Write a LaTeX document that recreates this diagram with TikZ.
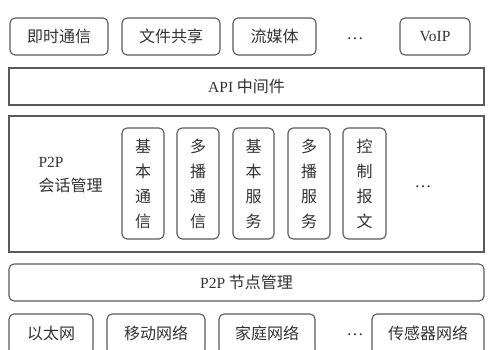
\documentclass[tikz,border=0pt]{standalone}
\usepackage{fontspec}
\setmainfont{Liberation Serif}
\newfontfamily\latf{Liberation Serif}
\newfontfamily\cjk{Noto Sans CJK SC}
\definecolor{ln}{HTML}{5A5A5A}
\definecolor{tx}{HTML}{333333}
\tikzset{
  cjkf/.style={font=\cjk\fontsize{16}{18}\selectfont},
  rbox/.style={draw=ln, line width=1.1pt, rounded corners=5pt, inner sep=0pt, text=tx, cjkf},
  sbox/.style={draw=ln, line width=1.1pt, inner sep=0pt, text=tx, cjkf},
  vbox/.style={rbox, align=center, font=\cjk\fontsize{16}{25}\selectfont},
  dots/.style={text=tx, font=\fontsize{17}{18}\selectfont},
  latin/.style={font=\latf\fontsize{15.5}{16}\selectfont},
}
\newcommand{\bx}[6]{\node[#1, minimum width=#4-#3, minimum height=#6-#5] (#2) at ({(#3+#4)/2},{(#5+#6)/2})}
\newcommand{\lat}[1]{{\latf\fontsize{15.5}{16}\selectfont #1}}
\begin{document}
\begin{tikzpicture}[x=1pt,y=-1pt]
\useasboundingbox (0,0) rectangle (489,349);
\fill[white] (0,0) rectangle (489,349);
% top row
\bx{rbox}{a1}{10}{108}{18}{55} {即时通信};
\bx{rbox}{a2}{122}{220}{18}{55} {文件共享};
\bx{rbox}{a3}{233}{316}{18}{55} {流媒体};
\node[dots] (ad) at (355,39) {\dots};
\bx{rbox}{a4}{400}{470}{18}{55} {\lat{VoIP}};
% API
\bx{sbox}{api}{9}{484}{68}{105} {\lat{API} 中间件};
% session
\bx{sbox}{ses}{9}{484}{116}{252} {};
\node[text=tx, anchor=west, latin] (p2p) at (35,162) {P2P};
\node[text=tx, anchor=west, cjkf] (hh) at (35,185) {会话管理};
\bx{vbox}{v1}{122}{164}{128}{239} {基\\本\\通\\信};
\bx{vbox}{v2}{177}{219}{128}{239} {多\\播\\通\\信};
\bx{vbox}{v3}{233}{274}{128}{239} {基\\本\\服\\务};
\bx{vbox}{v4}{288}{330}{128}{239} {多\\播\\服\\务};
\bx{vbox}{v5}{343}{386}{128}{239} {控\\制\\报\\文};
\node[dots] (vd) at (423,187) {\dots};
% node management
\bx{rbox}{nm}{9}{484}{264}{301} {\lat{P2P} 节点管理};
% bottom row
\bx{rbox}{b1}{9}{93}{314}{362} {};
\bx{rbox}{b2}{107}{205}{314}{362} {};
\bx{rbox}{b3}{219}{315}{314}{362} {};
\bx{rbox}{b4}{372}{484}{314}{362} {};
\node[text=tx, cjkf] (t1) at (51,333) {以太网};
\node[text=tx, cjkf] (t2) at (156,333) {移动网络};
\node[text=tx, cjkf] (t3) at (267,333) {家庭网络};
\node[dots] (bd) at (355,335) {\dots};
\node[text=tx, cjkf] (t4) at (428,333) {传感器网络};
\end{tikzpicture}
\end{document}
